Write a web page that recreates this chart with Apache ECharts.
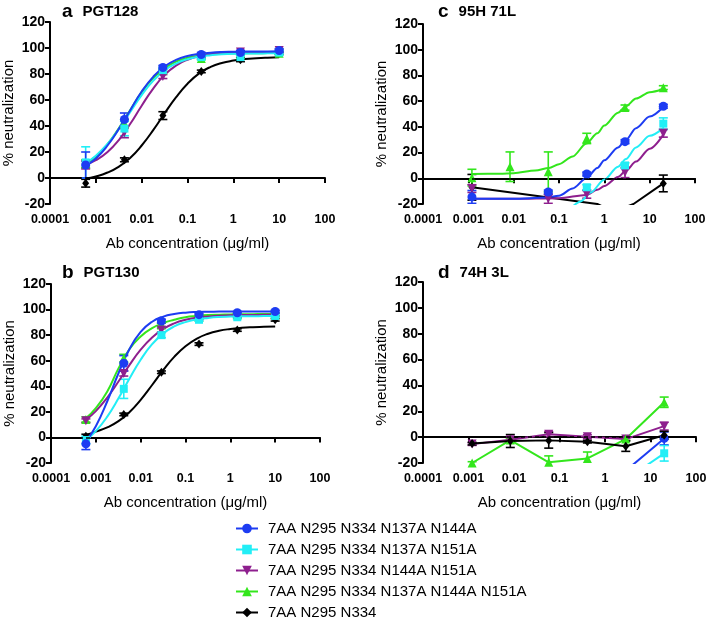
<!DOCTYPE html>
<html>
<head>
<meta charset="utf-8">
<script src="https://cdn.jsdelivr.net/npm/echarts@6/dist/echarts.min.js"></script>
<style>html,body{margin:0;padding:0;background:#fff}#c{width:710px;height:622px}</style>
</head>
<body>
<div id="c"></div>
<script>
// ---------- data ----------
const seriesNames = ['7AA N295 N334 N137A N144A', '7AA N295 N334 N137A N151A', '7AA N295 N334 N144A N151A', '7AA N295 N334 N137A N144A N151A', '7AA N295 N334'];
const xTickLabels = ['0.0001', '0.001', '0.01', '0.1', '1', '10', '100'];
const panelTitles = [['a', 'PGT128'], ['b', 'PGT130'], ['c', '95H 71L'], ['d', '74H 3L']];

const concAB = [0.0006, 0.0042, 0.029, 0.2, 1.43, 10];
const concCD = [0.0012, 0.0083, 0.058, 0.41, 2.86, 20];

// panel a (PGT128) points and errors
const aBlue = [10, 45, 85, 95, 96.5, 98];      const aBlueErr = [10, 5, 1.5, 1.5, 1.5, 1.5];
const aCyan = [12, 38, 83, 93, 93, 96.5];      const aCyanErr = [12, 5.5, 1.5, 1.5, 1.5, 1.5];
const aPurple = [10, 35, 78, 93, 97, 98];      const aPurpleErr = [3, 4, 1.5, 1, 1, 1];
const aGreen = [11, 42, 83, 92, 95, 96];       const aGreenErr = [3, 3, 1, 1, 1, 1];
const aBlack = [-4, 14, 48, 82, 91, 96];       const aBlackErr = [3, 1.5, 3, 1, 1.5, 1];
// fitted curves for panels a and b, read at quarter-decade concentrations
const fitXAB = [0.0006, 0.001, 0.0018, 0.0032, 0.0056, 0.01, 0.018, 0.032, 0.056, 0.1, 0.18, 0.32, 0.56, 1, 1.8, 3.2, 5.6, 10];
const aBlueFit =   [9.5, 15, 25, 38, 52, 66.5, 78, 86, 90.8, 93.8, 95.5, 96.4, 96.9, 97.1, 97.3, 97.4, 97.4, 97.5];
const aCyanFit =   [11.7, 17.2, 26.2, 37.8, 50.7, 63.8, 74.9, 82.9, 88, 91.4, 93.4, 94.5, 95.1, 95.5, 95.7, 95.8, 95.9, 96];
const aPurpleFit = [10.2, 13.7, 20, 29.4, 41.5, 55.6, 69, 79.5, 86.5, 91, 93.7, 95.2, 96, 96.5, 96.8, 96.9, 97, 97];
const aGreenFit =  [11, 16.5, 26, 38.5, 52, 66, 77, 84.5, 89.5, 92.5, 94, 95, 95.5, 95.8, 96, 96, 96.1, 96.2];
const aBlackFit =  [-0.3, 1.2, 4.2, 8.8, 15.4, 25, 37, 50, 62, 72.5, 80.5, 85.5, 88.5, 90.3, 91.5, 92.1, 92.5, 92.8];

// panel b (PGT130)
const bBlue = [-5, 58, 91, 96, 97.5, 98.5];    const bBlueErr = [4.5, 6, 1.5, 1, 1, 1];
const bCyan = [-2, 38, 80, 92, 94, 95];        const bCyanErr = [3, 7.5, 2, 1, 1, 1];
const bPurple = [13, 50, 84, 93, 95, 96];      const bPurpleErr = [1.5, 2, 1.5, 1, 1, 1];
const bGreen = [14, 62, 88, 94, 96, 96];       const bGreenErr = [2, 3, 1.5, 1, 1, 1];
const bBlack = [1, 18, 51, 73, 84, 92];        const bBlackErr = [1.5, 1, 1, 1, 1, 1];
const bBlueFit =   [-3, 8.8, 28.3, 50.2, 69, 82.5, 90.5, 94.5, 96.5, 97.6, 98.1, 98.3, 98.4, 98.5, 98.5, 98.5, 98.5, 98.5];
const bCyanFit =   [-2.1, 4.9, 16.3, 30.6, 45.9, 60.8, 72.9, 81.4, 86.8, 90.2, 92.3, 93.5, 94.2, 94.5, 94.7, 94.8, 94.9, 95];
const bPurpleFit = [13.8, 20.6, 31.2, 43.7, 56.5, 68.6, 78.2, 84.9, 89.2, 92, 93.7, 94.6, 95.2, 95.5, 95.7, 95.8, 95.9, 96];
const bGreenFit =  [15, 23, 36, 54, 69, 79, 85.5, 89.5, 92, 94, 95, 95.7, 96, 96.2, 96.3, 96.4, 96.5, 96.5];
const bBlackFit =  [2, 4.5, 7.8, 12.7, 19.7, 29.4, 41, 52.8, 63, 71.3, 77.3, 81.1, 83.4, 84.8, 85.7, 86.2, 86.5, 86.8];

// panel c (95H 71L)
const cBlue = [-14.5, null, -10.7, 3.3, 28.5, 56];   const cBlueErr = [5, 0, 1.5, 1.5, 1.5, 1.5];
const cCyan = [null, null, null, -7, 10, 42.5];      const cCyanErr = [0, 0, 0, 2, 2, 4.5];
const cPurple = [-8, null, -16, -12.5, 4.5, 35];     const cPurpleErr = [3, 0, 3.5, 3, 4, 3];
const cGreen = [0.5, 9, 5, 31, 55, 70.5];            const cGreenErr = [6.5, 11.5, 15.5, 4, 2, 1.5];
const cBlack = [-7, null, null, null, null, -4];     const cBlackErr = [10, 0, 0, 0, 0, 6.5];
const cBlueFit =   [[0.0012, -16], [0.01, -16], [0.05, -15], [0.1, -13.5], [0.2, -8], [0.4, 0], [0.7, 8], [1, 14], [2, 24], [3, 30], [5, 39], [10, 48], [20, 55.5]];
const cCyanFit =   [[0.2, -22], [0.3, -18], [0.5, -11], [1, -1], [2, 9], [3, 15], [5, 24], [10, 33], [20, 39]];
const cPurpleFit = [[0.0012, -16], [0.01, -16], [0.1, -15.5], [0.4, -13], [0.7, -9], [1, -6], [2, 1], [3, 6], [5, 13], [10, 23], [20, 34]];
const cGreenFit =  [[0.0012, 3.3], [0.005, 3.5], [0.01, 4], [0.03, 6], [0.06, 8], [0.1, 11], [0.2, 17], [0.4, 27], [0.7, 35], [1, 41], [2, 51], [3, 56], [5, 62], [10, 67], [20, 69.5]];
const cBlackFit =  [[0.0012, -7], [0.7, -20], [1.6, -26], [4.4, -20], [20, -4]];

// panel d (74H 3L) – points joined by straight lines
const dBlue = [null, null, null, null, -26, -1];     const dBlueErr = [0, 0, 0, 0, 0, 5];
const dCyan = [null, null, null, null, -33, -12.5];  const dCyanErr = [0, 0, 0, 0, 0, 6];
const dPurple = [-5.4, -2, 2.3, 0.3, -1.5, 8.5];     const dPurpleErr = [1, 1, 2, 1.5, 1, 3];
const dGreen = [-20, -2.3, -19.5, -16.5, -1.5, 27];  const dGreenErr = [1, 1, 5, 5, 1, 4];
const dBlack = [-5, -3, -2.5, -3.5, -7, 1.5];        const dBlackErr = [1, 5, 6, 1, 4, 3];

// ---------- styles ----------
const colors = ['#1d3cf2', '#22eef6', '#8e1f8e', '#33e61c', '#000000'];
const symbols = ['circle', 'rect', 'path://M0,0 L10,0 L5,10 Z', 'triangle', 'diamond'];
const symSizes = [9, 8, 9, 9, [7, 9]];
const FONT = 'Liberation Sans, Arial, sans-serif';

const grids = [
  { left: 49, top: 22, width: 276, height: 182 },   // a
  { left: 51, top: 284, width: 269, height: 179 },  // b
  { left: 423, top: 24, width: 272, height: 180 },  // c
  { left: 423, top: 282, width: 273, height: 181 }  // d
];

function xAxisFor(i) {
  return {
    type: 'log', logBase: 10, min: 0.0001, max: 100, gridIndex: i, splitNumber: 6,
    name: 'Ab concentration (\u03bcg/ml)', nameLocation: 'middle', nameGap: 32,
    nameTextStyle: { fontSize: 15, color: '#000', fontFamily: FONT },
    axisLine: { show: true, lineStyle: { color: '#000', width: 2 } },
    axisTick: { show: true, length: 5, lineStyle: { color: '#000', width: 2 } },
    minorTick: { show: false }, splitLine: { show: false },
    axisLabel: { color: '#000', fontSize: 12.5, fontWeight: 'bold', fontFamily: FONT, margin: 9,
      formatter: v => xTickLabels[Math.round(Math.log10(v)) + 4] }
  };
}
function yAxisFor(i) {
  return {
    type: 'value', min: -20, max: 120, interval: 20, gridIndex: i,
    name: '% neutralization', nameLocation: 'middle', nameGap: 34,
    nameTextStyle: { fontSize: 15, color: '#000', fontFamily: FONT },
    axisLine: { show: true, lineStyle: { color: '#000', width: 2 } },
    axisTick: { show: true, length: 5, lineStyle: { color: '#000', width: 2 } },
    splitLine: { show: false },
    axisLabel: { color: '#000', fontSize: 14, fontWeight: 'bold', fontFamily: FONT, margin: 5 }
  };
}

const series = [];
function pts(xs, ys) { const o = []; xs.forEach((x, i) => { if (ys[i] != null) o.push([x, ys[i]]); }); return o; }
function errData(xs, ys, es) { const o = []; xs.forEach((x, i) => { if (ys[i] != null && es[i]) o.push([x, ys[i] - es[i], ys[i] + es[i]]); }); return o; }
function errSeries(k, gi, xs, ys, es) {
  const color = colors[k];
  series.push({
    type: 'custom', name: seriesNames[k], xAxisIndex: gi, yAxisIndex: gi, clip: true, silent: true,
    data: errData(xs, ys, es), encode: { x: 0, y: [1, 2] }, z: 2,
    renderItem: (params, api) => {
      const x = api.value(0);
      const lo = api.coord([x, api.value(1)]);
      const hi = api.coord([x, api.value(2)]);
      const w = 4.5, st = { stroke: color, lineWidth: 1.6 };
      return { type: 'group', children: [
        { type: 'line', shape: { x1: lo[0], y1: lo[1], x2: hi[0], y2: hi[1] }, style: st },
        { type: 'line', shape: { x1: hi[0] - w, y1: hi[1], x2: hi[0] + w, y2: hi[1] }, style: st },
        { type: 'line', shape: { x1: lo[0] - w, y1: lo[1], x2: lo[0] + w, y2: lo[1] }, style: st }
      ] };
    }
  });
}
function lineWithPoints(k, gi, xs, ys) {
  series.push({
    type: 'line', name: seriesNames[k], xAxisIndex: gi, yAxisIndex: gi, data: pts(xs, ys),
    symbol: symbols[k], symbolSize: symSizes[k], showAllSymbol: true, clip: true,
    itemStyle: { color: colors[k] }, lineStyle: { color: colors[k], width: 2 }, z: 3
  });
}
function fitLine(k, gi, data, smooth, mono) {
  const s = {
    type: 'line', name: seriesNames[k], xAxisIndex: gi, yAxisIndex: gi, data: data,
    symbol: 'none', smooth: smooth, clip: true,
    lineStyle: { color: colors[k], width: 2 }, itemStyle: { color: colors[k] }, z: 3
  };
  if (mono) s.smoothMonotone = 'x';
  series.push(s);
}
function scatterPts(k, gi, xs, ys) {
  series.push({
    type: 'scatter', name: seriesNames[k], xAxisIndex: gi, yAxisIndex: gi, data: pts(xs, ys),
    symbol: symbols[k], symbolSize: symSizes[k], clip: true,
    itemStyle: { color: colors[k], opacity: 1 }, z: 4
  });
}
function zeroLine(gi) {
  series.push({
    type: 'line', xAxisIndex: gi, yAxisIndex: gi, data: [], silent: true,
    markLine: { silent: true, symbol: 'none', label: { show: false },
      lineStyle: { color: '#000', width: 1.5, type: [4, 3] }, data: [{ yAxis: 0 }] }
  });
}

// panel d first (its line+marker series provide the legend icons)
const dAll = [dBlue, dCyan, dPurple, dGreen, dBlack];
const dErr = [dBlueErr, dCyanErr, dPurpleErr, dGreenErr, dBlackErr];
[0, 1, 2, 3, 4].forEach(k => lineWithPoints(k, 3, concCD, dAll[k]));
[0, 1, 2, 3, 4].forEach(k => errSeries(k, 3, concCD, dAll[k], dErr[k]));
zeroLine(3);

// panels a and b
const panelsAB = [
  { gi: 0, ys: [aBlue, aCyan, aPurple, aGreen, aBlack], es: [aBlueErr, aCyanErr, aPurpleErr, aGreenErr, aBlackErr], fits: [aBlueFit, aCyanFit, aPurpleFit, aGreenFit, aBlackFit] },
  { gi: 1, ys: [bBlue, bCyan, bPurple, bGreen, bBlack], es: [bBlueErr, bCyanErr, bPurpleErr, bGreenErr, bBlackErr], fits: [bBlueFit, bCyanFit, bPurpleFit, bGreenFit, bBlackFit] }
];
const drawOrder = [4, 3, 2, 1, 0];
panelsAB.forEach(p => {
  zeroLine(p.gi);
  drawOrder.forEach(k => fitLine(k, p.gi, pts(fitXAB, p.fits[k]), 0.5, false));
  drawOrder.forEach(k => errSeries(k, p.gi, concAB, p.ys[k], p.es[k]));
  drawOrder.forEach(k => scatterPts(k, p.gi, concAB, p.ys[k]));
});

// panel c
const cAll = [cBlue, cCyan, cPurple, cGreen, cBlack];
const cErr = [cBlueErr, cCyanErr, cPurpleErr, cGreenErr, cBlackErr];
const cFits = [cBlueFit, cCyanFit, cPurpleFit, cGreenFit, cBlackFit];
zeroLine(2);
drawOrder.forEach(k => fitLine(k, 2, cFits[k], k !== 4 ? 0.3 : false, true));
drawOrder.forEach(k => errSeries(k, 2, concCD, cAll[k], cErr[k]));
drawOrder.forEach(k => scatterPts(k, 2, concCD, cAll[k]));

// titles
const titlePos = [{ left: 62, top: 2 }, { left: 62, top: 263 }, { left: 438, top: 2 }, { left: 438, top: 263 }];
const titles = panelTitles.map((t, i) => ({
  text: '{l|' + t[0] + '}{s| }{n|' + t[1] + '}', left: titlePos[i].left, top: titlePos[i].top, padding: 0,
  textStyle: { rich: {
    l: { fontSize: 19, fontWeight: 'bold', color: '#000', fontFamily: FONT },
    s: { fontSize: 15, width: 10 },
    n: { fontSize: 15, fontWeight: 'bold', color: '#000', fontFamily: FONT }
  } }
}));

const chart = echarts.init(document.getElementById('c'), null, { renderer: 'canvas' });
chart.setOption({
  animation: false,
  backgroundColor: '#fff',
  title: titles,
  grid: grids,
  xAxis: [0, 1, 2, 3].map(xAxisFor),
  yAxis: [0, 1, 2, 3].map(yAxisFor),
  legend: {
    data: seriesNames, orient: 'vertical', left: 235, top: 521, padding: 0,
    itemWidth: 22, itemHeight: 12, itemGap: 6,
    textStyle: { fontSize: 15, color: '#000', fontFamily: FONT, padding: [0, 0, 0, 5] }, selectedMode: false
  },
  series: series
});
</script>
</body>
</html>
